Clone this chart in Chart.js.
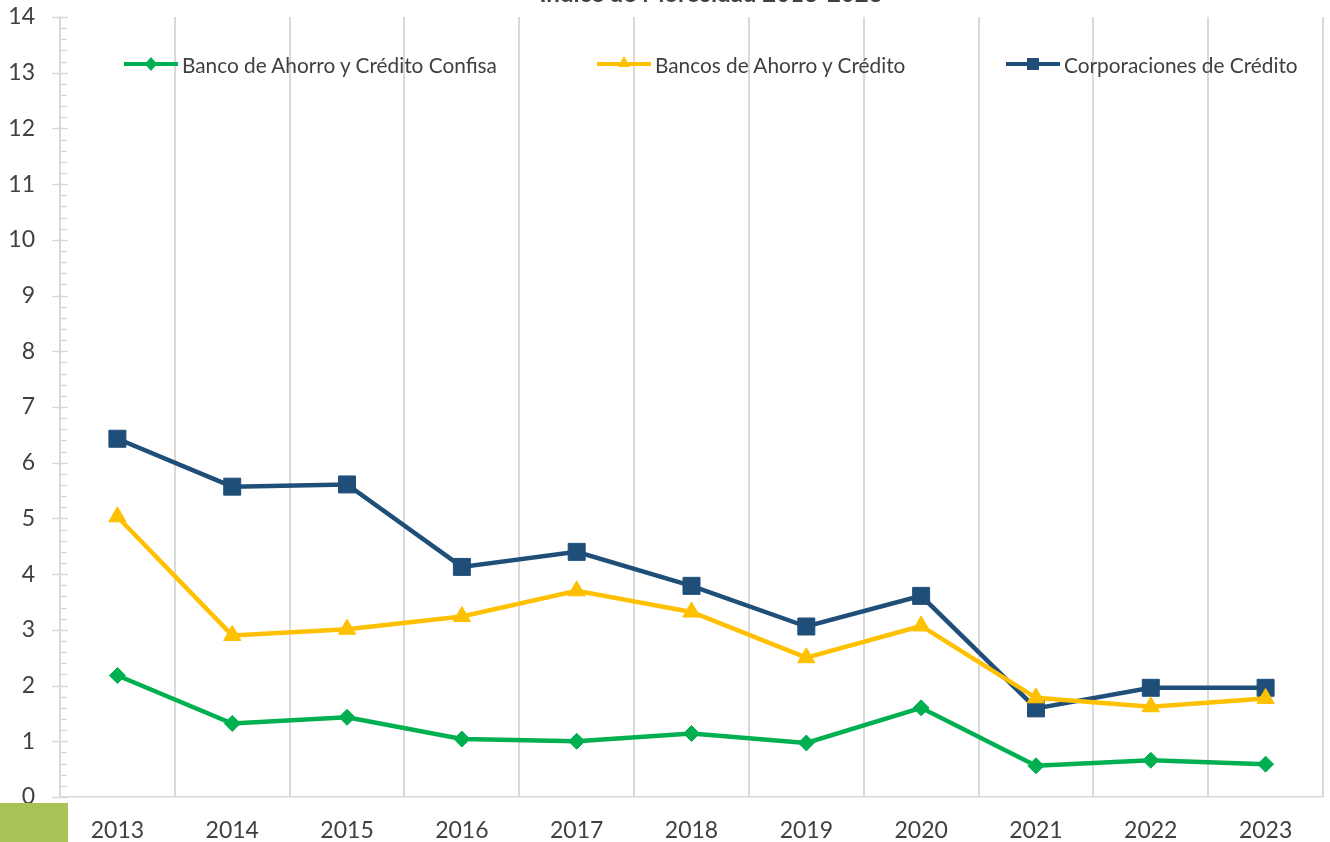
<!DOCTYPE html>
<html lang="es">
<head>
    <meta charset="UTF-8">
    <title>Índice de Morosidad 2013-2023</title>
    <script src="https://cdn.jsdelivr.net/npm/chart.js@4.4.0/dist/chart.umd.min.js"></script>
    <style>
        body {
            margin: 0;
            background: #ffffff;
            font-family: Lato, 'Noto Sans', sans-serif;
            overflow: hidden;
        }
        .wrap {
            position: relative;
            width: 1330px;
            height: 842px;
            overflow: hidden;
        }
        .chart-title {
            position: absolute;
            left: 711px;
            top: -19px;
            transform: translateX(-50%);
            margin: 0;
            font-size: 24px;
            font-weight: bold;
            color: #404040;
            white-space: nowrap;
            line-height: 24px;
        }
        .legend-item {
            position: absolute;
            top: 52px;
            height: 24px;
            display: flex;
            align-items: center;
            font-size: 20.8px;
            color: #404040;
            white-space: nowrap;
        }
        .legend-item svg {
            margin-right: 4px;
        }
        .corner {
            position: absolute;
            left: 0;
            top: 803px;
            width: 68px;
            height: 39px;
            background: #a8c256;
        }
    </style>
</head>
<body>
<div class="wrap">
    <canvas id="chart" width="1330" height="842"></canvas>
    <h1 class="chart-title">Índice de Morosidad 2013-2023</h1>
    <div id="legend"></div>
    <div class="corner"></div>
</div>

<script>
    // Datos
    const years = ['2013', '2014', '2015', '2016', '2017', '2018', '2019', '2020', '2021', '2022', '2023'];
    const confisa = [2.18, 1.32, 1.43, 1.04, 1.00, 1.14, 0.97, 1.60, 0.56, 0.66, 0.59];
    const bancosAhorro = [5.03, 2.90, 3.01, 3.24, 3.70, 3.32, 2.50, 3.07, 1.78, 1.62, 1.77];
    const corporaciones = [6.43, 5.57, 5.61, 4.13, 4.40, 3.79, 3.06, 3.61, 1.59, 1.96, 1.96];
    const yTicks = [0, 1, 2, 3, 4, 5, 6, 7, 8, 9, 10, 11, 12, 13, 14];

    const series = [
        { label: 'Banco de Ahorro y Crédito Confisa', data: confisa, color: '#00b050', style: 'rectRot', radius: 8, left: 124 },
        { label: 'Bancos de Ahorro y Crédito', data: bancosAhorro, color: '#ffc000', style: 'triangle', radius: 10, left: 597 },
        { label: 'Corporaciones de Crédito', data: corporaciones, color: '#1f4e79', style: 'rect', radius: 12, left: 1006 }
    ];

    const axisGray = '#d9d9d9';
    const textGray = '#404040';

    // ticks mayores (cruzan el eje) y menores (hacia dentro)
    const axisTicks = {
        id: 'axisTicks',
        afterDraw(chart) {
            const ctx = chart.ctx;
            const y = chart.scales.y;
            const x0 = chart.chartArea.left;
            ctx.save();
            ctx.strokeStyle = axisGray;
            ctx.lineWidth = 1.5;
            for (let i = 0; i <= 70; i++) {
                const py = Math.round(y.getPixelForValue(i / 5)) + 0.5;
                ctx.beginPath();
                if (i % 5 === 0) {
                    ctx.moveTo(x0 - 8, py);
                    ctx.lineTo(x0 + 8, py);
                } else {
                    ctx.moveTo(x0, py);
                    ctx.lineTo(x0 + 7, py);
                }
                ctx.stroke();
            }
            ctx.restore();
        }
    };

    const ctx = document.getElementById('chart').getContext('2d');
    const chart = new Chart(ctx, {
        type: 'line',
        data: {
            labels: years,
            datasets: series.map(s => ({
                label: s.label,
                data: s.data,
                borderColor: s.color,
                backgroundColor: s.color,
                borderWidth: 4.5,
                pointStyle: s.style,
                pointRadius: s.radius,
                pointBorderWidth: 1,
                pointBorderColor: s.color,
                pointBackgroundColor: s.color,
                tension: 0
            }))
        },
        options: {
            responsive: false,
            animation: false,
            layout: {
                autoPadding: false,
                padding: { top: 17, right: 7, bottom: 0, left: 0 }
            },
            scales: {
                x: {
                    offset: true,
                    afterFit: scale => {
                        scale.height = 45;
                        scale.paddingLeft = 0;
                        scale.paddingRight = 0;
                    },
                    grid: {
                        offset: true,
                        color: axisGray,
                        lineWidth: 2,
                        drawTicks: false
                    },
                    border: { display: true, color: axisGray, width: 1.5 },
                    ticks: {
                        color: textGray,
                        font: { family: 'Lato', size: 23 },
                        padding: 20,
                        maxRotation: 0
                    }
                },
                y: {
                    min: 0,
                    max: 14,
                    afterFit: scale => {
                        scale.width = 60;
                        scale.paddingTop = 0;
                        scale.paddingBottom = 0;
                    },
                    afterBuildTicks: scale => {
                        scale.ticks = yTicks.map(v => ({ value: v }));
                    },
                    grid: { display: false, drawTicks: false },
                    border: { display: true, color: axisGray, width: 1.5 },
                    ticks: {
                        color: textGray,
                        font: { family: 'Lato', size: 23 },
                        padding: 25
                    }
                }
            },
            plugins: {
                legend: { display: false },
                title: { display: false },
                tooltip: { enabled: false }
            }
        },
        plugins: [axisTicks]
    });

    // leyenda con línea y marcador, al estilo de la hoja de cálculo
    const legend = document.getElementById('legend');
    series.forEach(s => {
        let marker = '';
        if (s.style === 'rectRot') {
            marker = `<polygon points="27,4 33,11 27,18 21,11" fill="${s.color}"/>`;
        } else if (s.style === 'triangle') {
            marker = `<polygon points="27,3 33,14 21,14" fill="${s.color}"/>`;
        } else {
            marker = `<rect x="21" y="5" width="12" height="12" fill="${s.color}"/>`;
        }
        const div = document.createElement('div');
        div.className = 'legend-item';
        div.style.left = s.left + 'px';
        div.innerHTML = `
            <svg width="54" height="22"><line x1="0" y1="11" x2="54" y2="11" stroke="${s.color}" stroke-width="4"/>${marker}</svg>
            <span>${s.label}</span>
        `;
        legend.appendChild(div);
    });
</script>
</body>
</html>
